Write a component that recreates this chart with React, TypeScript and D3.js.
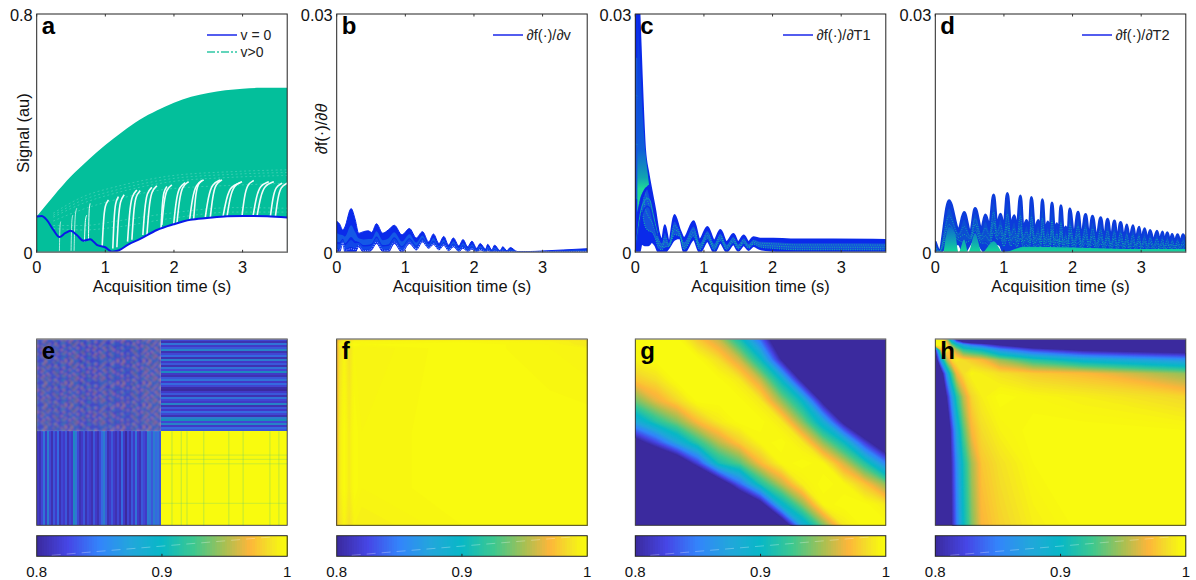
import React from 'react';
import * as d3 from 'd3';

// ---- data ----
const xTicks = [0, 1, 2, 3];
const cbTicks = [0.8, 0.9, 1];
const cmapStops = [0.8, 0.825, 0.85, 0.875, 0.9, 0.925, 0.95, 0.97, 0.985, 0.995, 1];
const cmapColors = ['#3b2a9e', '#4646e6', '#3384fb', '#22a6dc', '#08b8c6', '#3cc890', '#a8c052', '#fdb53a', '#f4df27', '#f8f512', '#f9fb0e'];

// panel a
const aTimes = [0, 0.25, 0.5, 0.75, 1, 1.25, 1.5, 1.75, 2, 2.25, 2.5, 2.75, 3, 3.25, 3.65];
const aUpper = [0.12, 0.19, 0.255, 0.31, 0.36, 0.405, 0.445, 0.476, 0.502, 0.522, 0.535, 0.544, 0.549, 0.552, 0.552];
const blueT = [0, 0.073, 0.146, 0.243, 0.331, 0.414, 0.496, 0.584, 0.681, 0.779, 0.876, 0.998, 1.095, 1.192, 1.338, 1.509, 1.752, 1.995, 2.238, 2.482, 2.774, 3.017, 3.358, 3.65];
const blueV = [0.12, 0.122, 0.109, 0.075, 0.051, 0.064, 0.072, 0.058, 0.039, 0.044, 0.025, 0.017, 0.002, 0.006, 0.027, 0.045, 0.075, 0.094, 0.109, 0.115, 0.121, 0.122, 0.121, 0.117];
const streakT0 = [0.331, 0.501, 0.545, 0.696, 0.754, 0.954, 1.109, 1.168, 1.324, 1.387, 1.547, 1.606, 1.81, 1.824, 1.995, 2.043, 2.228, 2.287, 2.457, 2.53, 2.715, 2.773, 2.992, 3.153, 3.211, 3.406, 3.479];
const streakV0 = [0.005, 0.005, 0.005, 0.036, 0.041, 0.019, 0.013, 0.017, 0.036, 0.042, 0.058, 0.058, 0.073, 0.092, 0.092, 0.097, 0.109, 0.111, 0.118, 0.118, 0.12, 0.12, 0.122, 0.122, 0.122, 0.122, 0.122];
const streakT1 = [0.35, 0.526, 0.584, 0.73, 0.779, 1.046, 1.192, 1.275, 1.46, 1.509, 1.679, 1.752, 1.898, 1.97, 2.165, 2.214, 2.433, 2.408, 2.676, 2.7, 2.968, 2.992, 3.163, 3.382, 3.455, 3.576, 3.65];
const streakV1 = [0.103, 0.125, 0.148, 0.125, 0.164, 0.176, 0.187, 0.193, 0.209, 0.207, 0.218, 0.223, 0.221, 0.226, 0.234, 0.237, 0.243, 0.241, 0.243, 0.243, 0.234, 0.237, 0.241, 0.237, 0.237, 0.232, 0.232];
const faintT = [0.24, 0.68, 1.17, 1.9, 2.87, 3.65];
const faintArcs = [
  [0.131, 0.187, 0.221, 0.255, 0.271, 0.277],
  [0.124, 0.176, 0.21, 0.245, 0.262, 0.268],
  [0.118, 0.165, 0.2, 0.235, 0.252, 0.258],
  [0.105, 0.145, 0.178, 0.212, 0.225, 0.232],
  [0.09, 0.09, 0.105, 0.13, 0.15, 0.148],
  [0.08, 0.075, 0.085, 0.112, 0.135, 0.135],
];

// panel b, values in 1e-3
const bTimes = [0, 0.04, 0.09, 0.12, 0.21, 0.27, 0.32, 0.39, 0.46, 0.51, 0.58, 0.67, 0.75, 0.84, 0.95, 1.06, 1.16, 1.25, 1.34, 1.41, 1.49, 1.56, 1.63, 1.7, 1.78, 1.84, 1.91, 1.97, 2.04, 2.09, 2.17, 2.2, 2.26, 2.3, 2.38, 2.42, 2.48, 2.53, 2.63, 2.82, 2.97, 3.31, 3.65];
const bTop = [3.9, 3.6, 2.8, 3.2, 5.5, 4.1, 2.4, 2.6, 2.7, 2.5, 3.6, 2.4, 2.8, 3.4, 2.2, 3.0, 1.8, 2.6, 1.3, 2.3, 1.1, 2.0, 0.9, 1.8, 0.8, 1.6, 0.7, 1.4, 0.5, 1.1, 0.4, 1.0, 0.3, 0.9, 0.2, 0.7, 0.2, 0.6, 0.1, 0.1, 0.15, 0.3, 0.45];
const bBot = [0, 0, 1.1, 0, 0, 0, 0.7, 0, 0, 0.3, 1.1, 0.1, 0, 1.1, 0, 1.1, 0.3, 1.3, 0.5, 1.0, 0.3, 0.9, 0.2, 0.7, 0.1, 0.5, 0.1, 0.4, 0.04, 0.3, 0.04, 0.2, 0, 0.1, 0, 0.1, 0, 0.04, 0, 0, 0, 0, 0.1];

// panel c
const cTimes = [0, 0.03, 0.06, 0.09, 0.14, 0.19, 0.24, 0.29, 0.34, 0.39, 0.43, 0.49, 0.57, 0.65, 0.71, 0.85, 0.94, 1.05, 1.15, 1.24, 1.33, 1.43, 1.5, 1.58, 1.65, 1.72, 1.82, 2.01, 2.4, 2.89, 3.65];
const cTop = [34, 34, 30, 23, 13.1, 10, 7.6, 5.3, 2.6, 1.6, 3.4, 1.3, 4.7, 2.8, 1.8, 3.9, 1.6, 3.2, 1.5, 2.8, 1.3, 2.3, 1.3, 2.1, 1.3, 1.9, 1.7, 1.7, 1.6, 1.6, 1.55];
const cBot = [0, 0, 0, 1.1, 0.9, 0.9, 1.3, 0.9, 0, 0, 0, 0.6, 1.6, 1.8, 0, 1.6, 0, 1.4, 0, 1.2, 0.1, 1, 0.2, 0.9, 0.3, 0.8, 0.4, 0.2, 0, 0, 0];
const cFanT = [0.03, 0.07, 0.11, 0.15, 0.18, 0.2];
const cFanHi = [30, 24, 17, 12.5, 10, 8.5];
const cFanLo = [5, 6.8, 7.6, 8, 8.4, 8.5];
const cArcT = [0.02, 0.08, 0.13, 0.17, 0.21, 0.26, 0.32];
const cArc1 = [2, 6.2, 7.6, 8.1, 7.9, 5.8, 2.8];
const cArc2 = [1.5, 5.2, 6.4, 6.8, 6.6, 4.8, 2.4];
const cArc3 = [1.2, 4.2, 5.4, 5.8, 5.6, 4, 2];

// panel d
const dTimes = [0, 0.06, 0.2, 0.34, 0.42, 0.51, 0.58, 0.67, 0.73, 0.79, 0.85, 0.9, 0.95, 1.0, 1.05, 1.1, 1.15, 1.19, 1.24, 1.28, 1.33, 1.37, 1.4, 1.45, 1.5, 1.53, 1.56, 1.6, 1.64, 1.67, 1.7, 1.74, 1.77, 1.8, 1.83, 1.87, 1.9, 1.93, 1.96, 2.02, 2.08, 2.13, 2.19, 2.24, 2.29, 2.35, 2.41, 2.46, 2.51, 2.56, 2.61, 2.65, 2.7, 2.75, 2.79, 2.83, 2.88, 2.92, 2.97, 3.0, 3.05, 3.09, 3.13, 3.18, 3.23, 3.27, 3.31, 3.34, 3.38, 3.42, 3.45, 3.49, 3.53, 3.57, 3.61, 3.65];
const dTop = [1.26, 0.21, 6.5, 2.81, 5.0, 2.39, 5.5, 2.81, 4.7, 3.23, 7.2, 3.23, 4.8, 3.02, 7.4, 3.23, 4.6, 2.81, 7.1, 2.81, 4.0, 2.6, 6.9, 2.6, 4.0, 2.39, 6.6, 2.39, 3.8, 2.18, 6.2, 2.18, 3.6, 1.97, 5.85, 1.97, 3.2, 1.89, 5.45, 1.89, 5.05, 1.81, 4.75, 1.72, 4.55, 1.64, 4.35, 1.55, 4.15, 1.55, 3.95, 1.47, 3.75, 1.47, 3.45, 1.39, 3.35, 1.39, 3.15, 1.3, 2.95, 1.3, 2.75, 1.26, 2.65, 1.22, 2.55, 1.13, 2.45, 1.13, 2.25, 1.13, 2.2, 1.13, 2.2, 1.34];
const dBotT = [0, 0.12, 0.29, 0.33, 0.35, 0.45, 0.48, 0.53, 0.65, 0.68, 0.8, 0.85, 0.94, 0.99, 3.65];
const dBotV = [0, 0, 2.2, 2.2, 0, 0, 0, 2, 1.8, 0, 0, 1.1, 1.1, 0, 0];
const dTealT = [0.12, 0.2, 0.29, 0.34, 0.42, 0.48, 0.58, 0.68, 0.85, 0.99, 1.3, 2, 3, 3.65];
const dTealV = [0, 3.2, 2.3, 0, 1.6, 0, 2.4, 0, 1.4, 0, 0.7, 0.6, 0.4, 0.4];

// panel e texture
const eRows = [0.83, 0.81, 0.86, 0.82, 0.84, 0.88, 0.81, 0.83, 0.85, 0.81, 0.87, 0.82, 0.84, 0.81, 0.86, 0.83, 0.89, 0.82, 0.81, 0.84, 0.86, 0.82, 0.85, 0.83, 0.805, 0.8, 0.82, 0.84, 0.81, 0.86, 0.83, 0.82, 0.88, 0.81, 0.84, 0.82, 0.85, 0.83, 0.81, 0.87, 0.9, 0.83, 0.88, 0.82, 0.85, 0.84];
const eCols = [0.82, 0.81, 0.83, 0.86, 0.82, 0.87, 0.83, 0.81, 0.84, 0.82, 0.85, 0.81, 0.83, 0.82, 0.84, 0.81, 0.83, 0.82, 0.89, 0.86, 0.83, 0.81, 0.82, 0.84, 0.81, 0.83, 0.82, 0.81, 0.84, 0.82, 0.81, 0.83, 0.85, 0.87, 0.84, 0.81, 0.82, 0.84, 0.82, 0.81, 0.83, 0.81, 0.85, 0.82, 0.8, 0.83, 0.81, 0.84, 0.82, 0.86, 0.82, 0.81, 0.84, 0.83, 0.82, 0.87, 0.86, 0.84, 0.87, 0.85, 0.86, 0.84];
const eTile = [
  [0.82, 0.96, 0.84, 0.86, 0.97, 0.82, 0.9, 0.83, 0.95, 0.81, 0.88, 0.84, 0.96],
  [0.94, 0.83, 0.89, 0.97, 0.81, 0.87, 0.83, 0.96, 0.82, 0.91, 0.83, 0.97, 0.85],
  [0.84, 0.88, 0.82, 0.83, 0.93, 0.81, 0.96, 0.85, 0.84, 0.97, 0.82, 0.86, 0.92],
  [0.97, 0.82, 0.95, 0.86, 0.82, 0.96, 0.84, 0.82, 0.93, 0.83, 0.95, 0.82, 0.84],
  [0.83, 0.92, 0.81, 0.96, 0.85, 0.83, 0.89, 0.97, 0.81, 0.86, 0.84, 0.96, 0.82],
  [0.88, 0.83, 0.97, 0.82, 0.91, 0.85, 0.82, 0.84, 0.96, 0.82, 0.93, 0.83, 0.97],
  [0.82, 0.96, 0.84, 0.89, 0.83, 0.97, 0.85, 0.93, 0.83, 0.95, 0.81, 0.88, 0.83],
  [0.95, 0.84, 0.82, 0.97, 0.83, 0.82, 0.95, 0.83, 0.87, 0.82, 0.96, 0.84, 0.91],
  [0.83, 0.9, 0.96, 0.82, 0.88, 0.94, 0.82, 0.97, 0.82, 0.85, 0.83, 0.95, 0.82],
  [0.92, 0.82, 0.85, 0.95, 0.82, 0.84, 0.96, 0.81, 0.92, 0.97, 0.84, 0.82, 0.89],
  [0.84, 0.97, 0.83, 0.81, 0.96, 0.89, 0.83, 0.88, 0.84, 0.82, 0.95, 0.87, 0.83],
];
const eLineX = [0.54, 0.577, 0.6, 0.667, 0.767, 0.824, 0.931, 0.967];
const eLineY = [0.623, 0.646, 0.67, 0.882];

// panel f
const fCols = [0, 0.012, 0.03, 0.05, 0.07, 0.1, 0.5, 0.85, 1];
const fRows = [0, 0.012, 0.03, 0.05, 0.5, 0.8, 1];
const fGrid = [
  [0.958, 0.968, 0.978, 0.972, 0.982, 0.982, 0.985, 0.985, 0.98],
  [0.962, 0.985, 0.995, 0.986, 0.995, 0.995, 0.997, 0.994, 0.99],
  [0.966, 0.992, 1, 0.992, 1, 0.998, 1, 0.996, 0.99],
  [0.966, 0.986, 0.995, 0.986, 0.996, 0.994, 1, 0.996, 0.994],
  [0.968, 0.99, 1, 0.99, 1, 0.996, 1, 1, 1],
  [0.97, 0.99, 1, 0.99, 1, 0.996, 1, 1, 1],
  [0.975, 0.986, 0.994, 0.986, 0.994, 0.992, 0.998, 1, 1],
];

// panel g
const gCols = [0, 1 / 12, 2 / 12, 3 / 12, 4 / 12, 5 / 12, 6 / 12, 7 / 12, 8 / 12, 9 / 12, 10 / 12, 11 / 12, 1];
const gRows = [0, 1 / 9, 2 / 9, 3 / 9, 4 / 9, 5 / 9, 6 / 9, 7 / 9, 8 / 9, 1];
const gGrid = [
  [1, 1, 1, 0.977, 0.956, 0.909, 0.839, 0.75, 0.7, 0.7, 0.7, 0.7, 0.7],
  [0.995, 1, 1, 1, 0.985, 0.958, 0.904, 0.8, 0.72, 0.7, 0.7, 0.7, 0.7],
  [0.976, 0.985, 1, 1, 1, 0.99, 0.958, 0.9, 0.793, 0.72, 0.7, 0.7, 0.7],
  [0.937, 0.964, 0.982, 1, 1, 1, 0.99, 0.946, 0.899, 0.79, 0.72, 0.7, 0.7],
  [0.877, 0.915, 0.941, 0.972, 0.99, 1, 1, 0.99, 0.942, 0.885, 0.79, 0.72, 0.7],
  [0.78, 0.824, 0.876, 0.92, 0.954, 0.978, 0.996, 1, 0.99, 0.945, 0.902, 0.82, 0.75],
  [0.7, 0.72, 0.752, 0.822, 0.907, 0.931, 0.971, 0.996, 1, 0.996, 0.96, 0.916, 0.85],
  [0.7, 0.7, 0.7, 0.7, 0.76, 0.838, 0.913, 0.955, 0.992, 1, 0.996, 0.975, 0.944],
  [0.7, 0.7, 0.7, 0.7, 0.7, 0.72, 0.78, 0.893, 0.943, 0.996, 1, 1, 0.99],
  [0.7, 0.7, 0.7, 0.7, 0.7, 0.7, 0.7, 0.75, 0.879, 0.94, 0.99, 1, 1],
];

// panel h
const hCols = [0, 0.025, 0.045, 0.065, 0.085, 0.112, 0.145, 0.185, 0.258, 0.391, 0.591, 1];
const hRows = [0, 0.032, 0.059, 0.113, 0.185, 0.31, 0.488, 0.667, 1];
const hGrid = [
  [1, 0.99, 0.95, 0.86, 0.78, 0.72, 0.7, 0.7, 0.7, 0.7, 0.7, 0.7],
  [1, 1, 0.985, 0.94, 0.905, 0.87, 0.845, 0.83, 0.8, 0.76, 0.72, 0.7],
  [0.8, 0.97, 0.99, 0.975, 0.95, 0.92, 0.91, 0.9, 0.86, 0.824, 0.795, 0.775],
  [0.76, 0.88, 0.95, 0.982, 0.99, 0.984, 0.978, 0.972, 0.947, 0.917, 0.89, 0.862],
  [0.72, 0.78, 0.86, 0.925, 0.968, 0.985, 0.995, 0.992, 0.986, 0.978, 0.972, 0.945],
  [0.7, 0.72, 0.8, 0.86, 0.915, 0.955, 0.982, 0.992, 1, 0.996, 0.992, 0.982],
  [0.7, 0.7, 0.75, 0.818, 0.875, 0.93, 0.97, 0.984, 0.994, 1, 1, 0.998],
  [0.7, 0.7, 0.72, 0.806, 0.855, 0.907, 0.949, 0.976, 0.986, 0.998, 1, 1],
  [0.7, 0.7, 0.7, 0.8, 0.845, 0.9, 0.94, 0.97, 0.98, 0.992, 1, 1],
];

// ---- layout ----
const font = '"Liberation Sans", Arial, sans-serif';
const colLeft = [36.7, 336.7, 635.3, 935.3];
const colWidth = 250.5;
const topY0 = 14;
const topY1 = 252.3;
const heatY0 = 339;
const heatY1 = 525.3;
const barY0 = 535.7;
const barY1 = 556.3;

const cmap = d3.scaleLinear<string>().domain(cmapStops).range(cmapColors).clamp(true);
const yMilli = d3.scaleLinear().domain([0, 30]).range([topY1, topY0]);
const ySignal = d3.scaleLinear().domain([0, 0.8]).range([topY1, topY0]);

const Axes = ({ left, letter, yTop, ylabel }: any) => {
  const x = d3.scaleLinear().domain([0, 3.65]).range([left, left + colWidth]);
  return (
    <g fontFamily={font} fill="#111">
      <rect x={left} y={topY0} width={colWidth} height={topY1 - topY0} fill="none" stroke="#222" strokeWidth={1} />
      <line x1={left} x2={left + colWidth} y1={topY1} y2={topY1} stroke="#808080" strokeWidth={1.6} />
      {xTicks.map((t) => (
        <g key={t}>
          <line x1={x(t)} x2={x(t)} y1={topY1} y2={topY1 - 2.5} stroke="#333" />
          <line x1={x(t)} x2={x(t)} y1={topY0} y2={topY0 + 2.5} stroke="#333" />
          <text x={x(t)} y={272.5} fontSize={16.4} textAnchor="middle">{t}</text>
        </g>
      ))}
      <text x={left - 4} y={258.5} fontSize={16.4} textAnchor="end">0</text>
      <text x={left - 4} y={20.5} fontSize={16.4} textAnchor="end">{yTop}</text>
      <text x={left + colWidth / 2} y={292} fontSize={16.4} textAnchor="middle">Acquisition time (s)</text>
      {ylabel}
      <text x={left + 5} y={34} fontSize={24} fontWeight="bold" fill="#000">{letter}</text>
    </g>
  );
};

// oscillating family: outer envelope plus shaded ribbons inside it
const Family = ({ id, left, times, top, botT, botV, base, bands, dots, edge }: any) => {
  const x = d3.scaleLinear().domain([0, 3.65]).range([left, left + colWidth]);
  const bot = d3.scaleLinear().domain(botT).range(botV);
  const rows = times.map((t: number, i: number) => ({ t, hi: top[i], lo: bot(t) }));
  const ribbon = (f0: number, f1: number) =>
    d3.area<any>()
      .x((d) => x(d.t))
      .y0((d) => yMilli(d.lo + (d.hi - d.lo) * f0))
      .y1((d) => yMilli(d.lo + (d.hi - d.lo) * f1))
      .curve(d3.curveMonotoneX)(rows) as string;
  const fracLine = (f: number) =>
    d3.line<any>()
      .x((d) => x(d.t))
      .y((d) => yMilli(d.lo + (d.hi - d.lo) * f))
      .curve(d3.curveMonotoneX)(rows) as string;
  return (
    <g clipPath={`url(#${id})`}>
      <path d={ribbon(0, 1)} fill={base} stroke={base} strokeWidth={edge} strokeLinejoin="round" />
      {bands.map((b: any, i: number) => <path key={i} d={ribbon(b.from, b.to)} fill={b.color} />)}
      {dots.map((d: any, i: number) => (
        <path key={i} d={fracLine(d.f)} fill="none" stroke={d.color} strokeWidth={1} strokeDasharray="1 1.3" />
      ))}
    </g>
  );
};

const PanelA = () => {
  const left = colLeft[0];
  const x = d3.scaleLinear().domain([0, 3.65]).range([left, left + colWidth]);
  const area = d3.area<number>()
    .x((_, i) => x(aTimes[i]))
    .y0(ySignal(0))
    .y1((d) => ySignal(d))
    .curve(d3.curveMonotoneX)(aUpper) as string;
  const blueLine = d3.line<number>()
    .x((_, i) => x(blueT[i]))
    .y((d) => ySignal(d))
    .curve(d3.curveMonotoneX)(blueV) as string;
  const gapStart = 12;
  const gapT = blueT.slice(gapStart);
  const gap = d3.area<number>()
    .x((_, i) => x(gapT[i]))
    .y0(ySignal(0))
    .y1((d) => ySignal(d))
    .curve(d3.curveMonotoneX)(blueV.slice(gapStart)) as string;
  const streak = d3.line<[number, number]>()
    .x((d) => x(d[0]))
    .y((d) => ySignal(d[1]))
    .curve(d3.curveBasis);
  return (
    <g clipPath="url(#clip0)">
      <path d={area} fill="#03bf9b" />
      <path d={gap} fill="#fff" />
      {faintArcs.map((arc, k) => (
        <path key={k}
          d={d3.line<number>().x((_, i) => x(faintT[i])).y((d) => ySignal(d)).curve(d3.curveMonotoneX)(arc) as string}
          fill="none" stroke="#fff" strokeOpacity={0.3} strokeWidth={0.7} strokeDasharray="2 2.5" />
      ))}
      {streakT0.map((t0, i) => {
        const t1 = streakT1[i];
        const v0 = streakV0[i];
        const v1 = streakV1[i];
        return (
          <path key={i}
            d={streak([[t0, v0], [t0 + (t1 - t0) * 0.2, v0 + (v1 - v0) * 0.55], [t0 + (t1 - t0) * 0.45, v0 + (v1 - v0) * 0.9], [t1, v1]]) as string}
            fill="none" stroke="#fff" strokeWidth={i < 5 ? 1 : 1.6} strokeOpacity={i < 3 ? 0.7 : 0.95} />
        );
      })}
      <path d={blueLine} fill="none" stroke="#0a18e8" strokeWidth={2} />
    </g>
  );
};

const SpikeC = () => {
  const left = colLeft[2];
  const x = d3.scaleLinear().domain([0, 3.65]).range([left, left + colWidth]);
  const fan = d3.area<number>()
    .x((_, i) => x(cFanT[i]))
    .y0((_, i) => yMilli(cFanLo[i]))
    .y1((d) => yMilli(d))
    .curve(d3.curveMonotoneX)(cFanHi) as string;
  const arc = (vals: number[]) =>
    d3.line<number>().x((_, i) => x(cArcT[i])).y((d) => yMilli(d)).curve(d3.curveMonotoneX)(vals) as string;
  return (
    <g clipPath="url(#clip2)">
      <path d={fan} fill="url(#fanGrad)" />
      <path d={arc(cArc1)} fill="none" stroke="#0c28e4" strokeWidth={2.6} />
      <path d={arc(cArc2)} fill="none" stroke="#12a8b0" strokeWidth={1} />
      <path d={arc(cArc3)} fill="none" stroke="#0c34e0" strokeWidth={1.6} />
    </g>
  );
};

const TealD = () => {
  const left = colLeft[3];
  const x = d3.scaleLinear().domain([0, 3.65]).range([left, left + colWidth]);
  const teal = d3.area<number>()
    .x((_, i) => x(dTealT[i]))
    .y0(yMilli(0))
    .y1((d) => yMilli(d))
    .curve(d3.curveMonotoneX)(dTealV) as string;
  return <path d={teal} fill="url(#tealGrad)" clipPath="url(#clip3)" />;
};

const Heat = ({ left, cols, rows, grid }: any) => {
  const n = cols.length;
  const m = rows.length;
  const px = d3.scaleLinear()
    .domain([0, ...cols.map((_: number, i: number) => i + 0.5), n])
    .range([left, ...cols.map((c: number) => left + c * colWidth), left + colWidth]);
  const py = d3.scaleLinear()
    .domain([0, ...rows.map((_: number, i: number) => i + 0.5), m])
    .range([heatY0, ...rows.map((r: number) => heatY0 + r * (heatY1 - heatY0)), heatY1]);
  const levels = d3.range(0.8, 1, 0.002);
  const bands = d3.contours().size([n, m]).thresholds(levels)(grid.flat());
  const toPath = (geom: any) =>
    geom.coordinates.map((poly: any) =>
      poly.map((ring: any) => 'M' + ring.map((p: number[]) => `${px(p[0]).toFixed(2)},${py(p[1]).toFixed(2)}`).join('L') + 'Z').join('')
    ).join('');
  return (
    <g>
      <rect x={left} y={heatY0} width={colWidth} height={heatY1 - heatY0} fill={cmap(0.8)} />
      {bands.map((b: any, i: number) => <path key={i} d={toPath(b)} fill={cmap(b.value + 0.001)} />)}
    </g>
  );
};

const HeatE = () => {
  const left = colLeft[0];
  const split = 161;
  const mid = 431.3;
  const xc = d3.scaleBand<number>().domain(d3.range(eCols.length)).range([left, split]);
  const yr = d3.scaleBand<number>().domain(d3.range(eRows.length)).range([heatY0, mid]);
  const fx = d3.scaleLinear().domain([0, 1]).range([left, left + colWidth]);
  const fy = d3.scaleLinear().domain([0, 1]).range([heatY0, heatY1]);
  return (
    <g>
      <g shapeRendering="crispEdges">
        {eCols.map((v, j) => (
          <rect key={j} x={xc(j)} y={mid} width={xc.bandwidth() + 0.5} height={heatY1 - mid} fill={cmap(v)} />
        ))}
        {eRows.map((v, i) => (
          <rect key={i} x={split} y={yr(i)} width={left + colWidth - split} height={yr.bandwidth() + 0.5} fill={cmap(v)} />
        ))}
      </g>
      {/* averaging of the finer source matrix: dims the stripes towards indigo */}
      <rect x={left} y={mid} width={split - left} height={heatY1 - mid} fill="#3b2a9e" opacity={0.3} />
      <rect x={split} y={heatY0} width={left + colWidth - split} height={mid - heatY0} fill="#3b2a9e" opacity={0.3} />
      <rect x={split} y={mid} width={left + colWidth - split} height={heatY1 - mid} fill={cmap(1)} shapeRendering="crispEdges" />
      <g clipPath="url(#clipE)">
        <g filter="url(#soft)">
          {eRows.map((_, i) => eCols.map((cv, j) => {
            const v = cv <= 0.81 ? 0.83 : eTile[i % eTile.length][j % eTile[0].length];
            return <rect key={`${i}-${j}`} x={xc(j)} y={yr(i)} width={xc.bandwidth() + 0.2} height={yr.bandwidth() + 0.2} fill={cmap(v)} />;
          }))}
        </g>
        <rect x={left} y={heatY0} width={split - left} height={mid - heatY0} fill="#3b2a9e" opacity={0.45} />
      </g>
      {eLineX.map((f) => <line key={f} x1={fx(f)} x2={fx(f)} y1={mid} y2={heatY1} stroke={cmap(0.93)} strokeOpacity={0.5} strokeWidth={0.7} />)}
      {eLineY.map((f) => <line key={f} x1={split} x2={left + colWidth} y1={fy(f)} y2={fy(f)} stroke={cmap(0.93)} strokeOpacity={0.4} strokeWidth={0.7} />)}
    </g>
  );
};

const HeatFrame = ({ left, letter }: any) => (
  <g fontFamily={font}>
    <rect x={left} y={heatY0} width={colWidth} height={heatY1 - heatY0} fill="none" stroke="#333" strokeWidth={0.9} />
    <line x1={left} x2={left + colWidth} y1={heatY0} y2={heatY0} stroke="#aaa" />
    <text x={left + 5} y={359} fontSize={24} fontWeight="bold" fill="#000">{letter}</text>
  </g>
);

const Colorbar = ({ left }: any) => {
  const x = d3.scaleLinear().domain([0.8, 1]).range([left, left + colWidth]);
  const cells = d3.range(0.8, 1, 0.002);
  return (
    <g fontFamily={font}>
      <g shapeRendering="crispEdges">
        {cells.map((c) => (
          <rect key={c} x={x(c)} y={barY0} width={x(0.802) - x(0.8) + 0.4} height={barY1 - barY0} fill={cmap(c + 0.001)} />
        ))}
      </g>
      <line x1={x(0.812)} x2={x(0.99)} y1={barY1 - 1} y2={barY0 + 1} stroke="#fff" strokeOpacity={0.42} strokeWidth={0.7} strokeDasharray="9 6" />
      <rect x={left} y={barY0} width={colWidth} height={barY1 - barY0} fill="none" stroke="#222" strokeWidth={1} />
      <line x1={x(0.9)} x2={x(0.9)} y1={barY1} y2={barY1 - 2.5} stroke="#222" />
      {cbTicks.map((t) => (
        <text key={t} x={x(t)} y={576.5} fontSize={15} textAnchor="middle" fill="#111">{t}</text>
      ))}
    </g>
  );
};

const Legend = ({ x0, y, text, color, dash, size = 14 }: any) => (
  <g fontFamily={font}>
    <line x1={x0} x2={x0 + 30} y1={y} y2={y} stroke={color} strokeWidth={1.4} strokeDasharray={dash} />
    <text x={x0 + 33.5} y={y + 4.7} fontSize={size} fill="#222">{text}</text>
  </g>
);

export default function App() {
  const blueBand = '#0a2aea';
  return (
    <svg width={1196} height={580} style={{ position: 'absolute', left: 0, top: 0, background: '#fff' }} xmlns="http://www.w3.org/2000/svg">
      <defs>
        {colLeft.map((l, i) => (
          <clipPath key={i} id={`clip${i}`}><rect x={l} y={topY0} width={colWidth} height={topY1 - topY0} /></clipPath>
        ))}
        <clipPath id="clipE"><rect x={colLeft[0]} y={heatY0} width={161 - colLeft[0]} height={431.3 - heatY0} /></clipPath>
        <linearGradient id="fanGrad" gradientUnits="userSpaceOnUse" x1={0} x2={0} y1={yMilli(28)} y2={yMilli(8)}>
          <stop offset="0" stopColor="#0c36e4" />
          <stop offset="0.75" stopColor="#0f5ed8" />
          <stop offset="0.93" stopColor="#10a4b0" />
          <stop offset="1" stopColor="#20d898" />
        </linearGradient>
        <linearGradient id="tealGrad" gradientUnits="userSpaceOnUse" x1={0} x2={0} y1={yMilli(4)} y2={yMilli(0)}>
          <stop offset="0" stopColor="#0c50d8" />
          <stop offset="0.6" stopColor="#0f9cb8" />
          <stop offset="1" stopColor="#12d898" />
        </linearGradient>
        <filter id="soft" x="-5%" y="-5%" width="110%" height="110%"><feGaussianBlur stdDeviation="0.85" /></filter>
      </defs>

      <PanelA />
      <Family id="clip1" left={colLeft[1]} times={bTimes} top={bTop} botT={bTimes} botV={bBot} base={blueBand} edge={1}
        bands={[{ from: 0.35, to: 0.62, color: '#1458e6' }, { from: 0.12, to: 0.28, color: '#1048e8' }]} dots={[{ f: 0.08, color: '#9ab8ff' }]} />
      <Family id="clip2" left={colLeft[2]} times={cTimes} top={cTop} botT={cTimes} botV={cBot} base={blueBand} edge={2}
        bands={[{ from: 0.2, to: 0.72, color: '#1452dc' }]} dots={[{ f: 0.2, color: '#14c8a0' }, { f: 0.4, color: '#14b8a8' }, { f: 0.58, color: '#14a8b0' }]} />
      <SpikeC />
      <Family id="clip3" left={colLeft[3]} times={dTimes} top={dTop} botT={dBotT} botV={dBotV} base="#0c3cda" edge={3}
        bands={[{ from: 0.3, to: 0.82, color: '#0c4ed2' }]} dots={[{ f: 0.25, color: '#14b8a8' }, { f: 0.45, color: '#14a8b0' }, { f: 0.65, color: '#1498b8' }]} />
      <TealD />

      <Axes left={colLeft[0]} letter="a" yTop="0.8"
        ylabel={<text transform={`translate(${29},${133}) rotate(-90)`} fontSize={16.4} textAnchor="middle">Signal (au)</text>} />
      <Axes left={colLeft[1]} letter="b" yTop="0.03"
        ylabel={<text transform={`translate(${327},${129}) rotate(-90)`} fontSize={16.4} textAnchor="middle">∂f(·)/∂<tspan fontStyle="italic">θ</tspan></text>} />
      <Axes left={colLeft[2]} letter="c" yTop="0.03" />
      <Axes left={colLeft[3]} letter="d" yTop="0.03" />

      <Legend x0={207} y={35} text="v = 0" color="#0a18e8" />
      <Legend x0={207} y={52} text="v>0" color="#2fc7a5" dash="8 2 2 2" />
      <Legend x0={493} y={35} text="∂f(·)/∂v" color="#0a18e8" size={14.6} />
      <Legend x0={783} y={35} text="∂f(·)/∂T1" color="#0a18e8" size={14.6} />
      <Legend x0={1082} y={35} text="∂f(·)/∂T2" color="#0a18e8" size={14.6} />

      <HeatE />
      <Heat left={colLeft[1]} cols={fCols} rows={fRows} grid={fGrid} />
      <Heat left={colLeft[2]} cols={gCols} rows={gRows} grid={gGrid} />
      <Heat left={colLeft[3]} cols={hCols} rows={hRows} grid={hGrid} />
      {['e', 'f', 'g', 'h'].map((l, i) => <HeatFrame key={l} left={colLeft[i]} letter={l} />)}
      {colLeft.map((l) => <Colorbar key={l} left={l} />)}
    </svg>
  );
}
